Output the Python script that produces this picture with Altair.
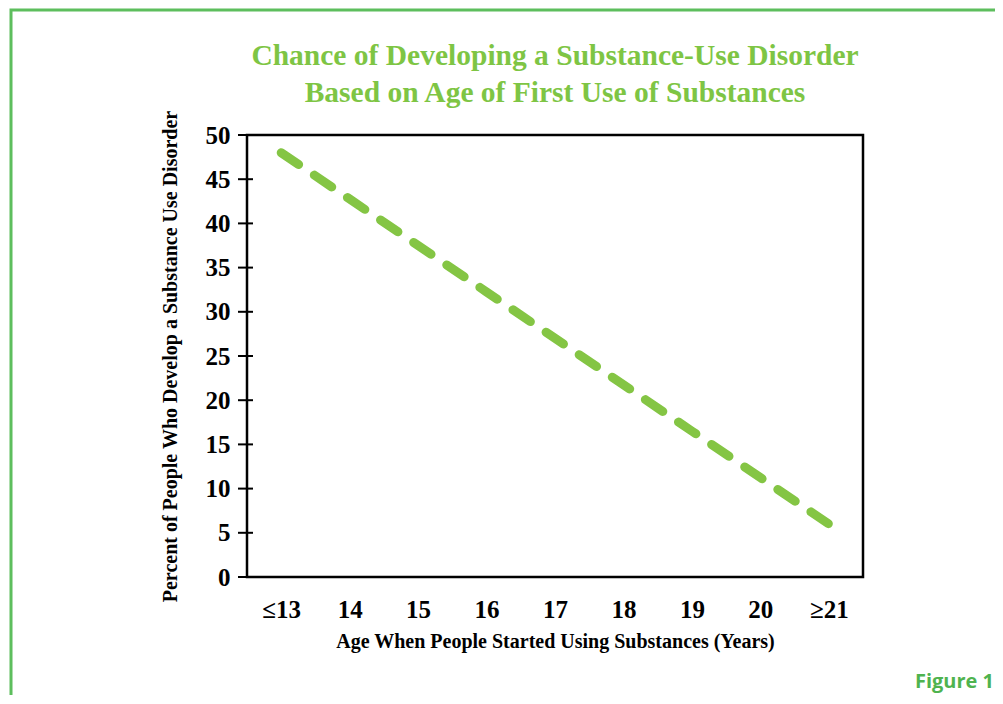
import altair as alt
import pandas as pd

ages = ["≤13", "14", "15", "16", "17", "18", "19", "20", "≥21"]
percent = [48, 42.75, 37.5, 32.25, 27, 21.75, 16.5, 11.25, 6]
y_ticks = [0, 5, 10, 15, 20, 25, 30, 35, 40, 45, 50]

title_line1 = ["Chance of Developing a Substance-Use Disorder"]
title_line2 = ["Based on Age of First Use of Substances"]
x_title = "Age When People Started Using Substances (Years)"
y_title = "Percent of People Who Develop a Substance Use Disorder"
fig_label = ["Figure 1"]

df = pd.DataFrame({"age": ages, "pct": percent})
ticks_df = pd.DataFrame({"v": y_ticks})
one = pd.DataFrame({"label": fig_label})

GREEN_LINE = "#84C544"
GREEN_TITLE = "#7EC544"
GREEN_FRAME = "#5DBE5D"
SERIF = "Liberation Serif"

line = alt.Chart(df).mark_line(
    color=GREEN_LINE, strokeWidth=9, strokeDash=[21, 19], strokeCap="round"
).encode(
    x=alt.X("age:N", sort=ages, scale=alt.Scale(padding=0.5),
            axis=alt.Axis(title=x_title, labelAngle=0, tickSize=0, domain=False,
                          labelFont=SERIF, labelFontSize=25, labelFontWeight="bold",
                          labelColor="black", labelPadding=20,
                          titleFont=SERIF, titleFontSize=20, titleFontWeight="bold",
                          titleColor="black", titlePadding=9)),
    y=alt.Y("pct:Q", scale=alt.Scale(domain=[0, 50], nice=False),
            axis=alt.Axis(title=y_title, values=y_ticks, tickSize=0,
                          domain=False, grid=False,
                          labelFont=SERIF, labelFontSize=25, labelFontWeight="bold",
                          labelColor="black", labelPadding=17,
                          titleFont=SERIF, titleFontSize=20, titleFontWeight="bold",
                          titleColor="black", titlePadding=25)),
)

tick_marks = alt.Chart(ticks_df).mark_rule(color="black", strokeWidth=2).encode(
    y=alt.Y("v:Q"), x=alt.value(-9), x2=alt.value(6)
)

frame = alt.Chart(one).mark_rect(
    filled=False, stroke=GREEN_FRAME, strokeWidth=3
).encode(
    x=alt.value(-236), x2=alt.value(820), y=alt.value(-125), y2=alt.value(700)
)

t1 = alt.Chart(pd.DataFrame({"t": title_line1})).mark_text(
    font=SERIF, fontSize=29.5, fontWeight="bold", color=GREEN_TITLE,
    align="center", baseline="alphabetic"
).encode(text="t:N", x=alt.value(308), y=alt.value(-70))

t2 = alt.Chart(pd.DataFrame({"t": title_line2})).mark_text(
    font=SERIF, fontSize=29.5, fontWeight="bold", color=GREEN_TITLE,
    align="center", baseline="alphabetic"
).encode(text="t:N", x=alt.value(308), y=alt.value(-33))

fig_text = alt.Chart(one).mark_text(
    font="Open Sans", fontSize=20, fontWeight="bold", color="#4FB34F",
    align="right", baseline="alphabetic"
).encode(
    text="label:N", x=alt.value(747), y=alt.value(553)
)

chart = alt.layer(frame, tick_marks, line, t1, t2, fig_text).properties(
    width=616, height=442,
    autosize=alt.AutoSizeParams(type="none"),
    padding={"left": 239, "top": 127, "right": 132, "bottom": 118},
).configure(background="white").configure_view(stroke="black", strokeWidth=2.5)

chart.save("out.html", embed_options={"renderer": "svg", "actions": False})
